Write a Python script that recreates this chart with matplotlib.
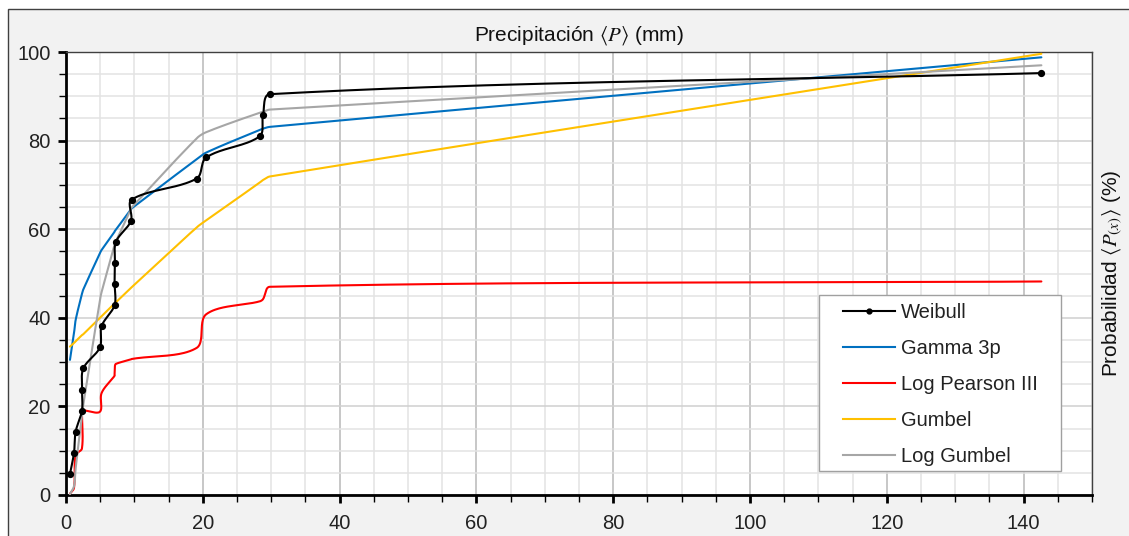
import numpy as np
import matplotlib
matplotlib.use('Agg')
import matplotlib.pyplot as plt
from matplotlib.patches import Rectangle
from matplotlib.lines import Line2D
from matplotlib.ticker import MultipleLocator, FixedLocator

plt.rcParams['font.family'] = ['Liberation Sans', 'DejaVu Sans']
plt.rcParams['mathtext.fontset'] = 'stix'

# precipitation sorted (mm), shared by every series
precip = [0.58, 1.17, 1.41, 2.33, 2.35, 2.53, 4.96, 5.2, 7.1, 7.1,
          7.15, 7.3, 9.5, 9.6, 19.1, 20.5, 28.3, 28.8, 29.8, 142.6]
weibull = [4.76, 9.52, 14.29, 19.05, 23.81, 28.57, 33.33, 38.10, 42.86, 47.62,
           52.38, 57.14, 61.90, 66.67, 71.43, 76.19, 80.95, 85.71, 90.48, 95.24]
gamma3p = [30.5, 36.5, 39.5, 45.4, 45.5, 46.4, 54.6, 55.3, 59.4, 59.5,
           59.6, 59.9, 64.5, 64.7, 75.8, 77.3, 82.4, 82.7, 83.1, 98.8]
log_pearson = [0.3, 1.6, 9.0, 10.5, 18.9, 19.1, 18.8, 23.0, 26.9, 27.2,
               29.1, 29.6, 30.6, 30.7, 33.2, 40.8, 43.7, 44.2, 47.0, 48.2]
gumbel = [33.5, 34.3, 34.7, 36.1, 36.1, 36.3, 40.0, 40.4, 43.2, 43.2,
          43.3, 43.5, 46.7, 46.9, 60.4, 62.0, 70.5, 71.1, 71.9, 99.6]
log_gumbel = [0.2, 2.0, 6.0, 18.0, 18.3, 20.4, 44.0, 45.8, 56.4, 56.5,
              56.8, 57.3, 64.5, 64.9, 80.5, 81.9, 86.3, 86.5, 87.0, 97.0]

series = [
    ('Gamma 3p', gamma3p, '#0070c0'),
    ('Log Pearson III', log_pearson, '#ff0000'),
    ('Gumbel', gumbel, '#ffc000'),
    ('Log Gumbel', log_gumbel, '#a6a6a6'),
]

W, H = 1129, 536
fig = plt.figure(figsize=(W / 100, H / 100), dpi=100, facecolor='white')
fig.patches.append(Rectangle((8 / W, -0.05), 1.2, 1.05 - 9 / H, transform=fig.transFigure,
                             facecolor='#f2f2f2', edgecolor='#404040', lw=1, zorder=-10))

ax = fig.add_axes([66 / W, 1 - 495 / H, (1092 - 66) / W, (495 - 52) / H])
ax.set_zorder(1)
ax.set_xlim(0, 150)
ax.set_ylim(0, 100)
ax.set_facecolor('white')


def excel_smooth(xs, ys, n=40):
    # bezier smoothing like a spreadsheet "smoothed line", done in screen space
    pts = ax.transData.transform(np.column_stack([xs, ys]))
    out = [pts[0]]
    t = np.linspace(0, 1, n)[1:, None]
    for i in range(len(pts) - 1):
        p0 = pts[i - 1] if i > 0 else pts[i]
        p1, p2 = pts[i], pts[i + 1]
        p3 = pts[i + 2] if i + 2 < len(pts) else pts[i + 1]
        d01 = np.hypot(*(p1 - p0))
        d12 = np.hypot(*(p2 - p1))
        d23 = np.hypot(*(p3 - p2))
        f1 = d12 / (d01 + d12) / 3 if d01 + d12 > 0 else 0
        f2 = d12 / (d12 + d23) / 3 if d12 + d23 > 0 else 0
        c1 = p1 + (p2 - p0) * f1
        c2 = p2 - (p3 - p1) * f2
        seg = ((1 - t) ** 3) * p1 + 3 * ((1 - t) ** 2) * t * c1 + 3 * (1 - t) * t ** 2 * c2 + t ** 3 * p2
        out.extend(seg)
    out = ax.transData.inverted().transform(np.array(out))
    return out[:, 0], out[:, 1]


# grid
ax.xaxis.set_major_locator(FixedLocator(range(0, 141, 20)))
ax.xaxis.set_minor_locator(MultipleLocator(5))
ax.yaxis.set_major_locator(MultipleLocator(20))
ax.yaxis.set_minor_locator(MultipleLocator(5))
ax.grid(which='minor', color='#e3e3e3', lw=1.1, zorder=0)
ax.grid(which='major', axis='y', color='#d0d0d0', lw=1.1, zorder=0)
ax.grid(which='major', axis='x', color='#b8b8b8', lw=1.1, zorder=0)
ax.set_axisbelow(True)

for label, vals, color in series:
    sx, sy = excel_smooth(precip, vals)
    ax.plot(sx, sy, color=color, lw=1.5, zorder=3, solid_capstyle='round')

sx, sy = excel_smooth(precip, weibull)
ax.plot(sx, sy, color='black', lw=1.5, zorder=4)
ax.plot(precip, weibull, 'o', color='black', ms=4.2, zorder=5)

# spines and ticks
for s in ['left', 'bottom']:
    ax.spines[s].set_color('black')
    ax.spines[s].set_linewidth(2)
for s in ['top', 'right']:
    ax.spines[s].set_color('#404040')
    ax.spines[s].set_linewidth(1)
ax.tick_params(which='major', direction='out', length=6, width=2, labelsize=14.5,
               color='black', labelcolor='#222222', pad=5)
ax.tick_params(which='minor', direction='out', length=5, width=1, color='black')
ax.tick_params(axis='x', which='major', pad=8)

ax.set_title(r'Precipitación $\langle P \rangle$ (mm)', fontsize=15, pad=8, color='#111111')
ax.yaxis.set_label_position('right')
ax.set_ylabel(r'Probabilidad $\langle P_{(x)} \rangle$ (%)', fontsize=15, labelpad=6, color='#111111')

# legend box
ax.add_patch(Rectangle(((819 - 66) / 1026, (495 - 471) / 443), (1061 - 819) / 1026, (471 - 295) / 443,
                       transform=ax.transAxes, facecolor='white', edgecolor='#a0a0a0', lw=1, zorder=6))
handles = [Line2D([0, 0.5, 1], [0, 0, 0], color='black', lw=1.5, marker='o', ms=3.5, markevery=[1])]
handles += [Line2D([], [], color=c, lw=1.5) for _, _, c in series]
labels = ['Weibull'] + [s[0] for s in series]
leg = ax.legend(handles, labels, loc='upper left', bbox_to_anchor=((843 - 66) / 1026, (495 - 303) / 443),
                frameon=False, borderpad=0, borderaxespad=0, fontsize=14.5, handlelength=2.6,
                handletextpad=0.3, labelspacing=0.85)
leg.set_zorder(7)
for t in leg.get_texts():
    t.set_color('#222222')

fig.savefig('out.png', dpi=100, facecolor=fig.get_facecolor())
